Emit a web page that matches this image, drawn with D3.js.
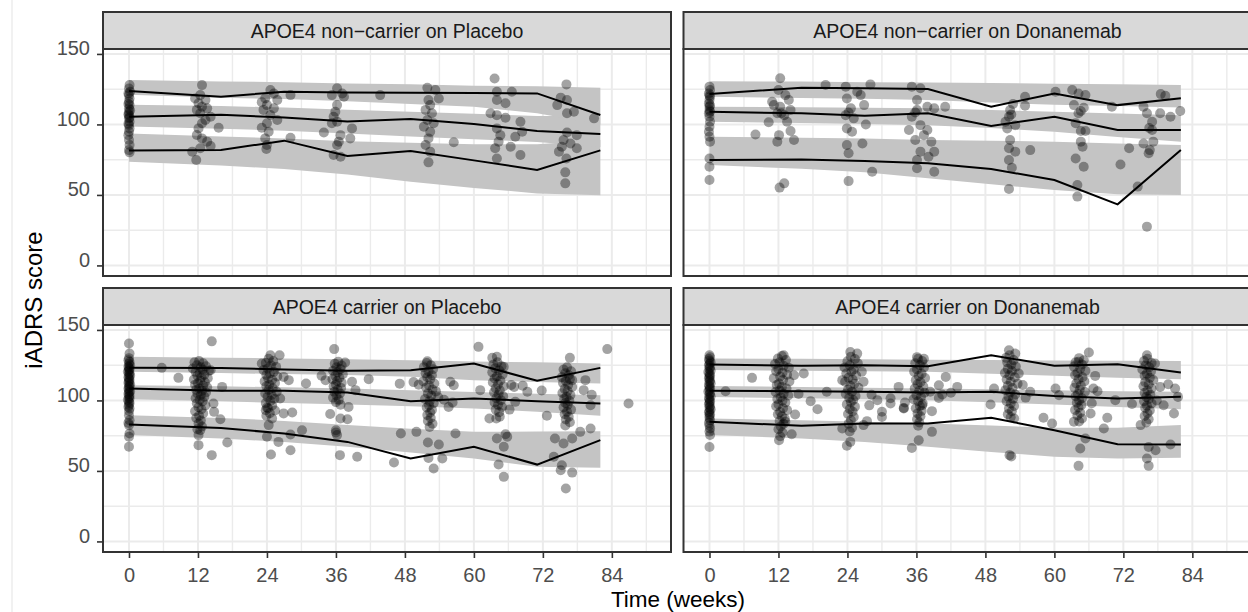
<!DOCTYPE html>
<html>
<head>
<meta charset="utf-8">
<script src="https://cdn.jsdelivr.net/npm/d3@7"></script>
<style>
  body { margin: 0; background: #fff; }
  svg { display: block; font-family: "Liberation Sans", Arial, sans-serif; }
</style>
</head>
<body>
<svg id="chart" width="1248" height="612"></svg>
<script>

// Data ////////////////////////////////////

const panelTitles = [
    "APOE4 non\u2212carrier on Placebo",
    "APOE4 non\u2212carrier on Donanemab",
    "APOE4 carrier on Placebo",
    "APOE4 carrier on Donanemab"
];

const xTicks = [0, 12, 24, 36, 48, 60, 72, 84];
const yTicks = [0, 50, 100, 150];

// time bins of the VPC (weeks)
const binWeeks = [0, 16, 27, 38, 49, 60, 71, 82];

// observed percentiles
const ncPlaceboP95 = [123.7, 119.7, 123.2, 122.7, 122.5, 122.3, 122, 106.7];
const ncPlaceboP50 = [105.5, 106.8, 105, 102, 103.8, 100.3, 95.3, 93.2];
const ncPlaceboP5  = [81.6, 81.8, 88.5, 77.6, 81.1, 74.5, 67.7, 81.6];

const ncDonaP95 = [121.5, 126, 125.6, 125.1, 112.6, 122, 113.7, 118.5];
const ncDonaP50 = [109, 107.9, 106.2, 107.9, 98.9, 105.5, 96, 96];
const ncDonaP5  = [74.8, 75.2, 74.1, 72.4, 68.4, 60.6, 43.3, 81.8];

const cPlaceboP95 = [123.1, 123, 121.9, 121, 121.4, 126.2, 113.9, 123.1];
const cPlaceboP50 = [108.5, 106.8, 106.8, 105.6, 99.5, 101.4, 99.5, 97.8];
const cPlaceboP5  = [82.9, 80.5, 76.5, 70.6, 58.8, 67.1, 54.5, 71.8];

const cDonaP95 = [125.5, 124.6, 125, 124.3, 132.1, 124.6, 125.7, 119.8];
const cDonaP50 = [106.8, 106.5, 106.1, 105.6, 106.1, 103.2, 101.4, 102.6];
const cDonaP5  = [84.9, 82, 83.7, 83.7, 87.7, 78.9, 69, 68.8];

// simulated prediction intervals [lo, hi] per bin
const ncPlaceboBand95 = [[121,131.5],[119,130.5],[118,130],[116.5,129],[114.5,128.5],[112.5,127.5],[108,127],[100,126]];
const ncPlaceboBand50 = [[98.5,114],[97,113],[95.5,112],[93.5,110.5],[91.5,109],[89.5,107.5],[87.5,106],[84,106]];
const ncPlaceboBand5  = [[73.5,93.5],[70.8,91.5],[68.4,90],[64.5,88],[59.4,87],[55,86],[51.1,86],[49.7,89]];

const ncDonaBand95 = [[119.6,130.7],[118.8,130.4],[118.2,130],[117.3,129.7],[115.5,129.3],[114,128.9],[113,128.5],[112,128]];
const ncDonaBand50 = [[101.9,112.6],[101,112.2],[100.3,111.8],[99.5,111.4],[97.5,110.3],[94.8,109],[91,107.8],[87.8,106.6]];
const ncDonaBand5  = [[71.2,91.3],[68.5,90.6],[66,90],[61.8,89],[57.5,88.5],[53.5,87.8],[50.5,86.5],[49.9,85.4]];

const cPlaceboBand95 = [[120.3,130.9],[119.4,130.3],[118.7,129.8],[118,129.2],[116.8,128.5],[114.4,127.7],[113,127],[112,126.2]];
const cPlaceboBand50 = [[100.9,110.8],[99.4,110],[98.2,109.3],[97.1,108.5],[95.8,107.3],[94.3,106],[92,104.8],[89.1,103.7]];
const cPlaceboBand5  = [[75.4,89.5],[73,87.5],[70.5,85.5],[67.1,82.5],[63,80],[58.8,77.7],[53,78],[52.2,78.2]];

const cDonaBand95 = [[121.5,129.7],[121,129.5],[120.7,129.2],[120.3,128.9],[119,128.6],[117.5,128.3],[116,128.1],[115,127.9]];
const cDonaBand50 = [[102.5,110.2],[101.5,109.6],[100.8,109],[100.2,108.5],[98.7,107.9],[97.1,107.2],[95.3,106.6],[93.8,106.1]];
const cDonaBand5  = [[75.4,87.2],[73,86],[70.5,84.8],[67.1,83.7],[63.5,82.2],[60,80.6],[58.8,80.6],[59.3,82.5]];

// observations [week, iADRS]
const ncPlaceboObs = [
    [0.1,127.9],[0,125.5],[0.2,123.2],[-0.1,122],[0,120.8],[0.1,118.4],[0,116.1],[-0.1,114.5],[0.1,113.7],[0,111.4],[0.2,110],[0,109],[-0.1,107.2],[0,106.6],[0.1,105],[0,104.3],[0.1,101.9],[-0.1,100.5],[0,99.5],[0.1,97.2],[0,94.8],[-0.1,92.4],[0,88.9],[0.1,85.4],[0,81.8],[0.1,80.2],
    [12.7,127.9],[12.4,120.8],[11.5,118.4],[13.3,117.3],[12.1,115],[12.7,112.6],[11.8,110.3],[13.6,111.4],[14.2,105.5],[12.4,107.9],[13.3,103.2],[12.7,100.8],[15.6,97.7],[12.1,97.2],[11.8,92.5],[12.7,90.1],[13.6,87.8],[14.2,84.7],[11,80.7],[12.4,83.1],[11.7,74.8],
    [24.6,124.4],[25.2,122],[23.7,118.5],[25.8,117.3],[24,113.7],[25.2,111.4],[23.4,110.3],[24.6,106.7],[25.8,103.2],[24,100.8],[23.1,97.7],[24.3,94.8],[23.7,90.1],[24,85.4],[23.9,82.6],[28.1,120.8],[28.1,90.6],[23.1,115.8],
    [36.2,125.6],[37.1,122],[35.3,120.8],[37.4,119.6],[36.2,113.7],[35.9,109],[35.6,105.5],[36.2,101.9],[35.3,100.8],[38.8,97.2],[33.9,94.3],[36.8,92.4],[38.5,90.1],[36.5,87.8],[36.2,85.4],[35.6,78.3],[36.8,77.1],[43.7,120.8],
    [51.9,126],[53.3,124.4],[52.1,117.3],[53.9,118.4],[52.4,113.7],[51.6,110.3],[52.7,107.9],[51.9,103.2],[53,100.8],[51.3,98.4],[52.4,94.8],[52.1,90.1],[51.6,85.4],[52.4,80.7],[52.1,73.1],[56.5,87.3],
    [63.6,132.6],[64,123.2],[66.6,123.2],[64,117.3],[65.5,115],[62.9,107.9],[64,106.6],[65.5,104.8],[68.1,101.9],[64,97.2],[68.4,94.8],[64.6,92.4],[67.2,91.3],[64.3,87.8],[66.4,84.2],[63.7,83.1],[68.1,78.3],[64,75.9],
    [76.1,128.4],[75.1,119],[76.2,117.3],[74.5,113.7],[76.2,107.9],[77.4,109],[80.9,104.3],[76.2,94.3],[77.9,92.4],[75.6,88.9],[76.8,86.5],[74.8,80.7],[77.9,83.1],[76.1,75.9],[75.9,66],[75.9,58.2],[75.3,84.2]
];

const ncDonaObs = [
    [0,126.8],[0.1,124.4],[-0.1,122],[0,120.5],[0.1,119.6],[0,117.3],[-0.1,114.9],[0.1,113.5],[0,112.6],[0,110.2],[0.1,109],[-0.1,107.9],[0,105.5],[0.1,101.9],[0,98.4],[-0.1,94.8],[0,91.3],[0.1,87.8],[0,75.9],[0,70],[0,60.6],
    [12.3,132.7],[12,124.4],[13.2,120.8],[10.9,116.1],[13.8,117.3],[12.3,112.6],[14.1,110.2],[11.8,107.9],[13,106.6],[12.5,108],[10.3,101.5],[13.5,101.9],[14.1,95.3],[12.1,92.4],[14.7,88.9],[11.8,87.8],[8,92.9],[12.2,55.2],[13,58.2],[11.2,113.7],
    [23.7,126.8],[28,128.4],[25.7,123.2],[23.9,118.4],[26.9,113.7],[24.6,111.4],[23.7,106.6],[24.2,108.5],[25.1,104.3],[27.2,100],[23.9,97.2],[24.8,94.8],[26.6,86.5],[23.9,85.4],[24.2,79.5],[28.3,66.5],[24.2,59.8],[20.2,128],[26.3,120.8],
    [35.2,126.8],[36.7,125.6],[36.1,117.3],[37.9,112.6],[39.1,111.4],[41,112.6],[36.1,110.2],[35.8,108.5],[35.2,105.5],[36.7,99.5],[37.9,96],[37.3,92.4],[35.8,88.9],[38.6,87.8],[36.7,80.7],[39.1,80.7],[36.1,74.8],[38.1,77.1],[36.1,68.9],[39.1,66.5],[34.7,96],
    [52.3,110.2],[54.9,119.6],[54.9,113.2],[52.1,105.5],[52.5,107],[53.2,99.5],[51.8,97.2],[52.3,88.9],[52.1,83.1],[53.2,80.7],[55.8,81.8],[52.1,74.8],[52.6,69.3],[52.1,54.2],[51.5,101.9],[52.8,114.5],
    [63.1,124.4],[64.2,122],[65.4,120.8],[63.4,113.7],[65.1,111.8],[64.2,107.9],[64.6,109.5],[63.7,100.8],[64.6,95.3],[65.4,95.3],[64.6,87.8],[64.9,84.2],[63.7,75.9],[65.1,70],[64,57],[64,48.8],[60.2,123.2],
    [79.3,120.3],[78.5,121.5],[75.5,112.6],[76.1,107.9],[78.4,107.9],[80.2,105.5],[81.9,109.5],[77,101.9],[77,96],[76.5,97.5],[75.5,86.5],[77.2,87.8],[76.6,81.8],[76.4,79.5],[74.5,55.9],[76.1,27.5],[71.5,71.6],[73,83.1],[70,112.6]
];

const cPlaceboObs = [
    [0,140.4],[0.1,133.3],[0,130],[-0.1,128.5],[0.1,127.2],[0,126],[0.2,125],[-0.1,124],[0,123.1],[0.1,122.2],[0,121.2],[-0.2,120.3],[0.1,119.5],[0,118.4],[0.2,117.6],[-0.1,116.5],[0,115.6],[0.1,114.5],[0,113.4],[-0.1,112.6],[0.2,111.5],[0,110.4],[0.1,109.6],[-0.1,108.5],[0,107.5],[0.2,106.4],[0,105.6],[-0.1,104.5],[0.1,103.4],[0,102.5],[0.1,101.4],[-0.2,100.5],[0,99.3],[0.1,98.2],[0,96.8],[-0.1,95.5],[0.1,94.3],[0,92.5],[0,89.5],[0.1,86],[-0.1,84],[0,82.5],[0.1,76.5],[0,74.2],[0,67.1],
    [12.2,128],[11.4,127],[12.9,126.3],[11.8,125],[13.4,124.2],[12.5,123.5],[11.1,122.6],[12.8,121.7],[13.9,121],[11.6,120.2],[12.3,119.4],[13.1,118.3],[11.9,117.5],[12.6,116.4],[13.7,115.8],[11.3,114.9],[12.4,114],[13.2,112.9],[12,112.1],[11.5,111.2],[12.9,110.4],[13.6,109.3],[12.2,108.5],[11.7,107.6],[12.7,106.8],[13.4,105.7],[11.9,104.9],[12.5,103.8],[13.1,102.6],[11.6,101.5],[12.3,100.4],[12.8,99.2],[11.8,98],[13.3,96.5],[12.1,95.2],[12.6,93.8],[11.5,92.3],[12.9,90.8],[12.2,89.1],[11.7,87.5],[12.5,85.8],[12.1,83.6],[12.7,81.5],[11.9,79.6],
    [14.4,141.9],[5.7,123.1],[8.6,116],[14.2,121.4],[16.2,109.6],[14.7,97.8],[15.9,86.7],[17.1,70.1],[14.4,61.2],[12.1,68.3],[14.8,91.9],[12.1,75.4],[12.4,78.9],
    [24.3,129.5],[25.1,128],[23.8,126.5],[24.7,125],[25.6,123.8],[24.1,122.6],[23.4,121.5],[25.2,120.4],[24.5,119.2],[23.9,118.1],[25.8,117],[24.2,115.8],[24.9,114.6],[23.6,113.5],[25.4,112.3],[24.4,111.2],[23.9,110],[25,108.7],[24.3,107.5],[25.7,106.2],[23.7,105],[24.8,103.8],[24.1,102.5],[25.3,101.2],[24.6,99.7],[23.8,98.1],[24.9,96.4],[24.2,94.5],[25.4,92.8],[24.5,91],[23.9,89.2],
    [24.6,132.1],[26.2,132.1],[23.1,126.2],[26.9,116.7],[26.3,101.4],[26.9,90.8],[28.4,91.4],[24.9,87.2],[24.3,82.5],[24,74.2],[26,70.6],[28.1,75.8],[28.1,64.7],[24.7,61.6],[30.1,78.9],[27.8,114.4],[24,95],[23.8,93.1],
    [36.4,127.5],[35.8,126],[37,124.8],[36.1,123.5],[36.8,122.3],[35.5,121],[36.3,119.9],[37.2,118.6],[35.9,117.4],[36.6,116.1],[35.4,115],[36.2,113.8],[37,112.5],[36,111.3],[35.6,110],[36.9,108.8],[36.3,107.5],[35.7,106.2],[36.7,105],[36.1,103.5],[35.5,102],[36.5,100.4],[36,98.8],[36.8,97],
    [35.7,136.4],[37.6,126.9],[34.2,114.4],[38.8,113.2],[41.7,115.1],[39.4,107.3],[38.2,95.4],[35,90.4],[36.8,87.2],[38,86.7],[36,78.9],[36,77.2],[36.2,75.4],[47.3,76.5],[36.7,61.2],[39.7,60],[47.1,111.9],[33.5,117.5],[30.8,112],
    [51.8,126.5],[52.5,125],[51.3,123.6],[52.9,122.2],[52.1,120.8],[51.6,119.3],[52.7,117.9],[51.9,116.4],[52.4,115],[51.2,113.5],[53.1,112],[52.2,110.6],[51.7,109.2],[52.8,107.8],[53.4,106.4],[52,105],[52.6,103.5],[53.8,102.3],[51.5,101],[52.3,99.5],[53,98],[52.2,96.5],[51.8,95],[52.7,93.3],[52.4,91.5],[51.9,89.6],[52.5,87.6],[52,85.5],[52.8,83.4],[52.3,81.2],
    [51.9,127.8],[50.4,111.2],[55.9,113.2],[56.5,110.8],[55.6,95.4],[50,77.7],[56.8,76.5],[52,70.1],[53.9,68.7],[52.1,59.2],[54.5,58.8],[53,51.7],[46.1,56],[60.8,138],[49.5,113],[56.3,98.5],[54.8,100.5],
    [64.1,127],[63.4,125.5],[64.8,124.2],[63.7,122.8],[64.4,121.3],[63.2,119.9],[65,118.5],[64,117],[63.6,115.6],[64.6,114.2],[63.3,112.8],[64.2,111.4],[65.2,110],[63.8,108.6],[64.5,107.2],[63.5,105.8],[64.3,104.4],[65.1,103],[63.9,101.6],[64.7,100.2],[63.6,98.6],[64.2,97],[64.9,95.3],[63.8,93.5],[64.4,91.7],
    [63.2,130.2],[64,131],[65.2,123.8],[67,109.6],[69.3,106.1],[61.1,107.3],[67.2,99],[62.7,87.2],[63.9,87.2],[64.5,88.5],[65.8,74.2],[64,73],[65.2,67.1],[64.3,54.5],[65.2,45.8],[72.7,89.1],[66.5,111],[68.5,110.5],[66.2,93.5],[65.5,76],
    [76.2,123.5],[75.6,122],[76.9,120.7],[75.9,119.3],[76.5,117.9],[75.3,116.5],[76.7,115.1],[76,113.7],[75.5,112.3],[76.4,110.9],[77.1,109.5],[75.8,108.1],[76.3,106.7],[75.4,105.3],[76.8,103.9],[76.1,102.5],[75.7,101.1],[76.6,99.7],[75.9,98.2],[76.3,96.7],[75.6,95.1],[76.9,93.5],[76.2,91.9],[75.8,90.2],[76.5,88.4],[76,86.5],[76.7,84.5],[75.9,82.3],
    [76.7,130.2],[83.2,136.4],[77.1,114.4],[79.4,114.4],[79.1,107.3],[80.3,96.6],[78.5,77.7],[80.3,80.1],[74.1,73],[75.6,69.4],[77.1,73],[73.9,60],[75.3,54],[77.1,48.8],[75.1,50.5],[76,37.6],[86.9,97.8],[80.5,104],[71.8,107]
];

const cDonaObs = [
    [0,132.1],[0.1,130.6],[-0.1,129.3],[0,128.1],[0.2,127],[0,125.8],[-0.1,124.7],[0.1,123.5],[0,122.4],[0.2,121.2],[-0.2,120.1],[0,119],[0.1,117.8],[0,116.7],[-0.1,115.5],[0.1,114.4],[0,113.2],[0.2,112.1],[-0.1,110.9],[0,109.8],[0.1,108.6],[0,107.5],[-0.2,106.3],[0.1,105.2],[0,104],[0.2,102.9],[-0.1,101.7],[0,100.6],[0.1,99.4],[0,98.3],[-0.1,97.1],[0.1,96],[0,94.8],[0.2,93.7],[0,92.5],[-0.1,91.4],[0.1,90.2],[0,89.1],[0,87.5],[0.1,85.9],[-0.1,84.1],[0,82.2],[0.1,80.1],[0,77.9],[0.1,75.5],[0,67],
    [12.6,131.5],[11.9,129.8],[13.3,128.6],[12.2,127.1],[11.4,125.9],[12.9,124.6],[13.8,123.2],[12,122.1],[11.6,120.7],[12.7,119.6],[13.5,118.2],[12.3,117],[11.2,115.8],[12.8,114.5],[13.9,113.4],[12.1,112],[11.7,110.9],[12.6,109.6],[13.4,108.4],[12.2,107.1],[11.5,106],[12.9,104.8],[13.7,103.5],[12.4,102.3],[11.8,101],[12.7,99.8],[13.2,98.5],[12,97.2],[11.6,95.9],[12.8,94.5],[13.5,93.1],[12.3,91.8],[11.9,90.2],[12.6,88.7],[13.1,87],[12.2,85.4],[12.9,83.5],[12.4,81.6],[12,79.5],[12.7,77.3],[12.3,74.6],
    [12.9,132.1],[16.4,119.1],[7.4,116],[14.7,117.9],[2.8,106.5],[17.6,99.5],[18.8,93.8],[20.4,106.1],[14.9,90],[13.2,84.9],[12.1,71.8],[15.5,104.5],[14.3,76],
    [24.6,131],[25.3,129.4],[24,127.8],[25.8,126.3],[24.4,124.9],[23.5,123.4],[25.1,122],[24.7,120.5],[23.8,119.1],[25.5,117.7],[24.2,116.2],[24.9,114.8],[23.6,113.3],[25.2,111.9],[24.5,110.4],[25.9,109],[24.1,107.6],[24.8,106.1],[23.7,104.7],[25.4,103.2],[24.3,101.8],[25,100.3],[24.6,98.8],[23.9,97.2],[25.3,95.6],[24.4,93.9],[24.9,92.2],[24.1,90.4],[25.1,88.3],[24.6,86.1],[24.2,83.5],[24.8,80.6],[24.4,78],
    [24.5,134.4],[25.7,133.2],[26.5,120.3],[26.8,113.2],[23.1,114.4],[26.8,82.5],[24.5,70.6],[23.9,67.8],[29.2,100.2],[31.5,97.8],[30,88.3],[27.4,85.3],[23.1,80.1],[33.8,94.3],[32.9,109.6],[28.2,104],[27.8,96.5],
    [36.3,129.5],[37,128],[35.8,126.4],[36.6,124.9],[37.3,123.4],[36.1,121.9],[35.6,120.4],[36.9,118.9],[36.4,117.4],[37.5,115.9],[35.9,114.4],[36.7,112.9],[36.2,111.4],[37.2,109.9],[35.7,108.4],[36.5,106.9],[37.4,105.4],[36,103.9],[36.8,102.4],[35.5,100.9],[36.3,99.4],[37.1,97.8],[36.6,96.1],[35.9,94.4],[36.9,92.6],[36.2,90.8],[36.7,88.8],[36.1,86.7],[36.5,84.4],[36.3,82],
    [36.1,130.7],[37.3,129.5],[41.1,116.7],[39.9,110.8],[43.1,109.6],[38.4,106.1],[39.9,101.8],[37,96.6],[38.7,92.4],[38.7,77.7],[36.4,71.8],[35.2,66.3],[33.8,94.7],[40.5,104.2],[42,105.5],[34,98.5],[31.5,101.5],[30,92],
    [52.2,132],[51.6,130.2],[52.9,128.6],[51.8,127],[52.5,125.5],[53.3,124],[51.9,122.4],[52.6,120.9],[51.4,119.4],[52.2,117.9],[53.1,116.4],[51.7,114.8],[52.4,113.3],[53.6,111.8],[51.9,110.3],[52.7,108.8],[51.5,107.3],[52.3,105.7],[53.2,104.2],[52,102.7],[52.8,101.1],[51.7,99.5],[52.4,97.8],[53,96],[52.1,94.2],[52.6,92.3],[51.9,90.2],[52.4,88],
    [52.1,135.6],[53.2,133.2],[48.9,97.1],[55.8,106.1],[53.8,119.1],[53,87.2],[52.2,61.2],[52.5,60.3],[58.1,87.7],[59.6,83.7],[60.2,108.5],[54.5,111],[55,102],[49.5,108.5],
    [64.3,130],[65.1,128.5],[63.7,127],[64.8,125.5],[63.4,124],[64.5,122.5],[65.4,121],[64,119.5],[63.6,118],[64.9,116.5],[64.2,115],[65.2,113.5],[63.8,112],[64.6,110.5],[63.5,109],[64.4,107.5],[65.3,106],[64.1,104.5],[63.7,103],[64.8,101.5],[64.3,100],[63.9,98.4],[64.7,96.8],[64.2,95],[63.6,93.2],[64.5,91.3],[64,89.3],[64.8,87.2],[64.3,85],
    [66,134],[64.2,127.4],[67.1,117.4],[66.8,108.5],[69.2,87.7],[68.6,80.1],[66.3,90.7],[63.4,84.9],[65.4,73],[64.5,65.9],[64.2,53.6],[60.8,103.7],[70.6,100.2],[67.5,106.5],[66.5,98],
    [76.2,129.5],[75.6,128],[76.9,126.5],[75.9,125],[76.5,123.5],[75.3,122],[76.8,120.5],[76.1,119],[75.7,117.5],[76.6,116],[77.2,114.5],[75.8,113],[76.4,111.5],[75.5,110],[76.9,108.5],[76.2,107],[75.7,105.5],[76.7,104],[76,102.5],[76.4,101],[75.6,99.5],[76.9,97.9],[76.1,96.3],[75.8,94.6],[76.6,92.8],[76.2,90.9],[75.7,88.9],[76.4,86.7],[76,84.3],
    [76.1,132.1],[77.5,126.2],[78.4,109.6],[81,108.5],[80.8,90.7],[79,96.6],[80.2,68.7],[77.6,64.7],[76.1,58.8],[76.4,53.6],[75,82.5],[76.4,67],[79.8,111.5],[81.5,102.5],[77.8,100],[73.5,97.5]
];

// Layout ////////////////////////////////////

const panelW = 568;
const panelH = 227;
const stripH = 37;
const colX = [103, 683.5];
const rowY = [49, 325];

const panels = [
    { title: panelTitles[0], col: 0, row: 0, obs: ncPlaceboObs, lines: [ncPlaceboP5, ncPlaceboP50, ncPlaceboP95], bands: [ncPlaceboBand5, ncPlaceboBand50, ncPlaceboBand95] },
    { title: panelTitles[1], col: 1, row: 0, obs: ncDonaObs, lines: [ncDonaP5, ncDonaP50, ncDonaP95], bands: [ncDonaBand5, ncDonaBand50, ncDonaBand95] },
    { title: panelTitles[2], col: 0, row: 1, obs: cPlaceboObs, lines: [cPlaceboP5, cPlaceboP50, cPlaceboP95], bands: [cPlaceboBand5, cPlaceboBand50, cPlaceboBand95] },
    { title: panelTitles[3], col: 1, row: 1, obs: cDonaObs, lines: [cDonaP5, cDonaP50, cDonaP95], bands: [cDonaBand5, cDonaBand50, cDonaBand95] }
];

const svg = d3.select("#chart");

// faint page edge line
svg.append("line")
    .attr("x1", 12).attr("x2", 12)
    .attr("y1", 0).attr("y2", 612)
    .attr("stroke", "#ececec")
    .attr("stroke-width", 1.5);

panels.forEach(drawPanel);

function drawPanel(p) {

    const x0 = colX[p.col];
    const y0 = rowY[p.row];

    const x = d3.scaleLinear().domain([-4.52, 94.29]).range([x0, x0 + panelW]);
    const y = d3.scaleLinear().domain([-7.5, 153.5]).range([y0 + panelH, y0]);

    const g = svg.append("g");

    g.append("rect")
        .attr("x", x0).attr("y", y0)
        .attr("width", panelW).attr("height", panelH)
        .attr("fill", "#fff");

    // Grid

    const xMinor = xTicks.map(t => t + 6);
    const yMinor = [25, 75, 125];

    const grid = g.append("g")
        .attr("stroke", "#ebebeb");

    grid.selectAll(".xminor")
        .data(xMinor.filter(t => x(t) < x0 + panelW))
        .join("line")
        .attr("x1", d => x(d)).attr("x2", d => x(d))
        .attr("y1", y0).attr("y2", y0 + panelH)
        .attr("stroke-width", 1.4);

    grid.selectAll(".yminor")
        .data(yMinor)
        .join("line")
        .attr("x1", x0).attr("x2", x0 + panelW)
        .attr("y1", d => y(d)).attr("y2", d => y(d))
        .attr("stroke-width", 1.4);

    grid.selectAll(".xmajor")
        .data(xTicks)
        .join("line")
        .attr("x1", d => x(d)).attr("x2", d => x(d))
        .attr("y1", y0).attr("y2", y0 + panelH)
        .attr("stroke-width", 2);

    grid.selectAll(".ymajor")
        .data(yTicks)
        .join("line")
        .attr("x1", x0).attr("x2", x0 + panelW)
        .attr("y1", d => y(d)).attr("y2", d => y(d))
        .attr("stroke-width", 2);

    // Prediction bands

    const area = d3.area()
        .x((d, i) => x(binWeeks[i]))
        .y0(d => y(d[0]))
        .y1(d => y(d[1]));

    g.selectAll(".band")
        .data(p.bands)
        .join("path")
        .attr("d", area)
        .attr("fill", "#c4c4c4");

    // Observations

    g.selectAll(".obs")
        .data(p.obs)
        .join("circle")
        .attr("cx", d => x(d[0]))
        .attr("cy", d => y(d[1]))
        .attr("r", 5)
        .attr("fill", "#000")
        .attr("fill-opacity", 0.36);

    // Observed percentiles

    const line = d3.line()
        .x((d, i) => x(binWeeks[i]))
        .y(d => y(d));

    g.selectAll(".pct")
        .data(p.lines)
        .join("path")
        .attr("d", line)
        .attr("fill", "none")
        .attr("stroke", "#000")
        .attr("stroke-width", 2);

    // Border and strip

    g.append("rect")
        .attr("x", x0).attr("y", y0)
        .attr("width", panelW).attr("height", panelH)
        .attr("fill", "none")
        .attr("stroke", "#333")
        .attr("stroke-width", 2);

    g.append("rect")
        .attr("x", x0).attr("y", y0 - stripH)
        .attr("width", panelW).attr("height", stripH)
        .attr("fill", "#d9d9d9")
        .attr("stroke", "#333")
        .attr("stroke-width", 2);

    g.append("text")
        .attr("x", x0 + panelW / 2)
        .attr("y", y0 - stripH / 2 + 7)
        .attr("text-anchor", "middle")
        .attr("font-size", 19.5)
        .attr("fill", "#1a1a1a")
        .text(p.title);

    // Axes

    if (p.col === 0) {
        const ay = g.append("g")
            .attr("transform", `translate(${ x0 - 1 },0)`)
            .call(d3.axisLeft(y).tickValues(yTicks).tickSize(5).tickPadding(7));
        styleAxis(ay);
        ay.selectAll("text").attr("dy", "0.04em");
    }

    if (p.row === 1) {
        const ax = g.append("g")
            .attr("transform", `translate(0,${ y0 + panelH + 1 })`)
            .call(d3.axisBottom(x).tickValues(xTicks).tickSize(5).tickPadding(10.5));
        styleAxis(ax);
        ax.selectAll("text").attr("dy", "0.68em");
    }
}

function styleAxis(a) {
    a.select(".domain").remove();
    a.selectAll("line").attr("stroke", "#333").attr("stroke-width", 1.6);
    a.selectAll("text")
        .attr("font-size", 20)
        .attr("font-family", "Liberation Sans, Arial, sans-serif")
        .attr("fill", "#4d4d4d");
}

// Axis titles

svg.append("text")
    .attr("x", 678)
    .attr("y", 606.5)
    .attr("text-anchor", "middle")
    .attr("font-size", 22.5)
    .attr("fill", "#000")
    .text("Time (weeks)");

svg.append("text")
    .attr("transform", "translate(42,300) rotate(-90)")
    .attr("text-anchor", "middle")
    .attr("font-size", 24)
    .attr("fill", "#000")
    .text("iADRS score");

</script>
</body>
</html>
